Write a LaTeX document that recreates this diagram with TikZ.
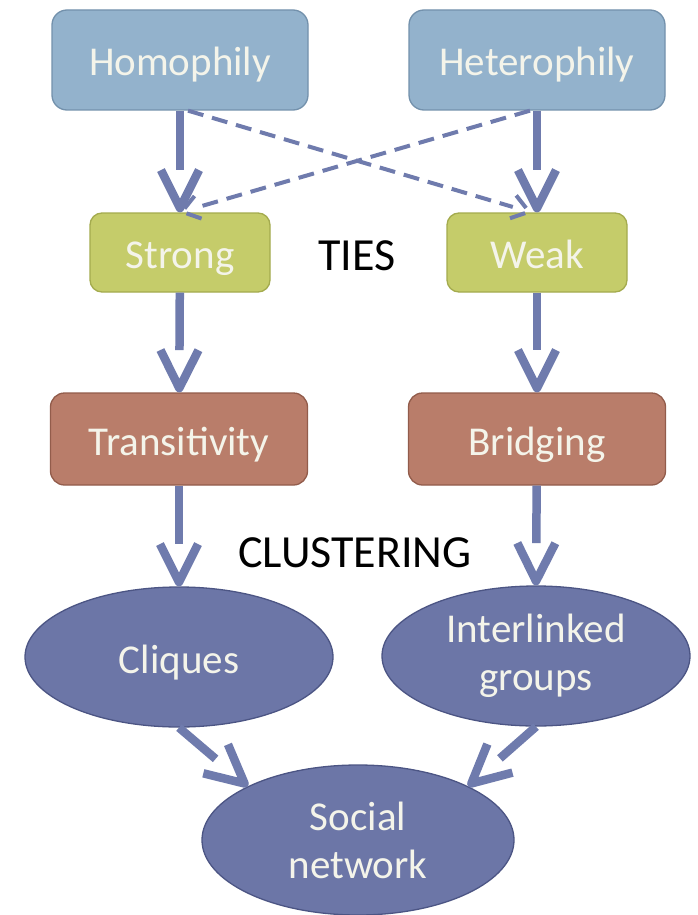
\documentclass[tikz,border=0pt]{standalone}
\usepackage{fontspec}
\setmainfont{Carlito}
\usetikzlibrary{arrows.meta,shapes.geometric}

% open "V" head: the shaft stops where the two arms begin
\pgfdeclarearrow{
  name = OpenVee,
  parameters = {\the\pgfarrowlength,\the\pgfarrowwidth,\the\pgfarrowlinewidth},
  setup code = {
    \pgfarrowssettipend{.5\pgfarrowlinewidth}
    \pgfarrowssetlineend{-\pgfarrowlength}
    \pgfarrowssetbackend{-\pgfarrowlength}
    \pgfarrowssetvisualbackend{-\pgfarrowlength}
    \pgfarrowssavethe\pgfarrowlength
    \pgfarrowssavethe\pgfarrowwidth
    \pgfarrowssavethe\pgfarrowlinewidth
  },
  drawing code = {
    \pgfsetlinewidth{\pgfarrowlinewidth}
    \pgfsetroundjoin
    \pgfsetbuttcap
    \pgfpathmoveto{\pgfqpoint{-\pgfarrowlength}{.5\pgfarrowwidth}}
    \pgfpathlineto{\pgfpointorigin}
    \pgfpathlineto{\pgfqpoint{-\pgfarrowlength}{-.5\pgfarrowwidth}}
    \pgfusepathqstroke
  },
  defaults = {length = 38pt, width = 36pt, line width = 0pt 1}
}

\definecolor{phfill}{HTML}{93B2CC}
\definecolor{phline}{HTML}{7391AC}
\definecolor{tiefill}{HTML}{C5CC6A}
\definecolor{tieline}{HTML}{A4AB4E}
\definecolor{mechfill}{HTML}{B97D6A}
\definecolor{mechline}{HTML}{925C4B}
\definecolor{grpfill}{HTML}{6C76A7}
\definecolor{grpline}{HTML}{4C5584}
\definecolor{flow}{HTML}{6F7BAD}
\definecolor{lbl}{HTML}{F4F4EA}

\begin{document}
\begin{tikzpicture}[x=1pt,y=-1pt,
  base/.style={text=lbl, font=\fontsize{41}{48}\selectfont, line width=1.3pt, inner sep=0pt},
  oneline/.style={text height=32pt, text depth=0pt},
  prop/.style={base, oneline, rectangle, rounded corners=15pt, fill=phfill, draw=phline,
    minimum width=256pt, minimum height=100pt},
  tie/.style={base, oneline, rectangle, rounded corners=12pt, fill=tiefill, draw=tieline,
    minimum width=180pt, minimum height=79pt},
  mech/.style={base, oneline, rectangle, rounded corners=14pt, fill=mechfill, draw=mechline,
    minimum width=257pt, minimum height=92pt},
  grp/.style={base, ellipse, fill=grpfill, draw=grpline, align=center,
    minimum width=308pt, minimum height=140pt},
  heading/.style={text=black, anchor=base, inner sep=0pt, font=\fontsize{46}{50}\selectfont},
  flowarrow/.style={draw=flow, line width=8.5pt, -{OpenVee[length=38pt,width=38pt]}},
  crossarrow/.style={draw=flow, line width=4pt, dash pattern=on 16pt off 9pt,
    -{OpenVee[length=17pt,width=24pt]}}
]
\useasboundingbox (0,0) rectangle (697,915);
\fill[white] (0,0) rectangle (697,915);

% sources of ties
\node[prop] (homo)   at (180,60)  {Homophily};
\node[prop] (hetero) at (537,60)  {Heterophily};

% tie strength
\node[tie] (strong) at (180,252.5) {Strong};
\node[tie] (weak)   at (537,252.5) {Weak};
\node[heading] (ties) at (357,270) {TIES};

% mechanisms
\node[mech] (trans)  at (179,439) {Transitivity};
\node[mech] (bridge) at (537,439) {Bridging};
\node[heading] (clust) at (355,567) {CLUSTERING};

% resulting structures
\node[grp, oneline] (cliques) at (179,657) {Cliques};
\node[grp] (inter)  at (536,656) {Interlinked\\groups};
\node[grp, minimum width=312pt, minimum height=150pt] (social) at (358,840) {Social\\network};

% main flow
\draw[flowarrow] (homo) -- (strong);
\draw[flowarrow] (hetero) -- (weak);
\draw[flowarrow] (strong) -- (trans);
\draw[flowarrow] (weak) -- (bridge);
\draw[flowarrow] (trans) -- (cliques);
\draw[flowarrow] (bridge) -- (inter.north);
\draw[flowarrow] (cliques.south) -- (social.154);
\draw[flowarrow] (inter.south) -- (social.26);

% crossed influences
\draw[crossarrow] ([xshift=8pt]homo.south) -- ([xshift=-6pt]weak.north);
\draw[crossarrow] ([xshift=-7pt]hetero.south) -- (strong.north);
\end{tikzpicture}
\end{document}
